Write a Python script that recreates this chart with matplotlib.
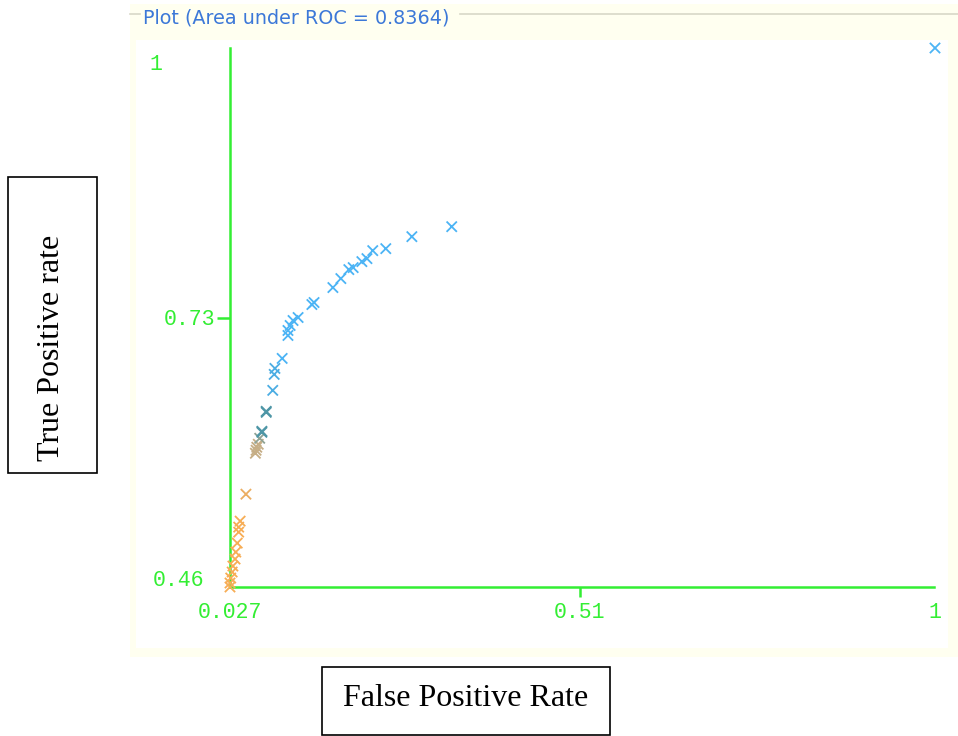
import matplotlib
matplotlib.use("Agg")
import matplotlib.pyplot as plt
from matplotlib.colors import LinearSegmentedColormap
from matplotlib.patches import Rectangle

# ROC points (false positive rate, true positive rate) and threshold colour value
fpr = [0.027, 0.027, 0.028, 0.030, 0.031, 0.034, 0.035, 0.037, 0.039, 0.039, 0.041, 0.049,
       0.062, 0.063, 0.064, 0.066, 0.068, 0.071, 0.071, 0.077, 0.077,
       0.086, 0.088, 0.089, 0.099, 0.107, 0.107, 0.110, 0.114, 0.121, 0.140, 0.143,
       0.169, 0.180, 0.191, 0.197, 0.209, 0.216, 0.224, 0.242, 0.278, 0.333, 1.0]
tpr = [0.460, 0.464, 0.469, 0.475, 0.481, 0.488, 0.495, 0.504, 0.515, 0.520, 0.526, 0.553,
       0.594, 0.597, 0.600, 0.603, 0.609, 0.615, 0.616, 0.635, 0.636,
       0.657, 0.673, 0.679, 0.689, 0.712, 0.717, 0.722, 0.727, 0.730, 0.743, 0.745,
       0.760, 0.769, 0.778, 0.780, 0.786, 0.789, 0.797, 0.799, 0.811, 0.821, 1.0]
shade = [1.0] * 11 + [0.93] + [0.72] * 4 + [0.55] + [0.35] * 4 + [0.08] * 3 + [0.0] * 19

x_ticks = [0.027, 0.51, 1]
x_tick_labels = ["0.027", "0.51", "1"]
y_tick_labels = ["1", "0.73", "0.46"]
title = "Plot (Area under ROC = 0.8364)"

W, H = 958, 736
fig = plt.figure(figsize=(W / 100, H / 100), dpi=100)
fig.patch.set_facecolor("white")


def fx(px):
    return px / W


def fy(py):
    return 1 - py / H


def box(x0, y0, x1, y1, **kw):
    r = Rectangle((fx(x0), fy(y1)), fx(x1) - fx(x0), fy(y0) - fy(y1),
                  transform=fig.transFigure, zorder=-10, **kw)
    fig.patches.append(r)


# panel background (light yellow) and white plotting area
box(130, 4, 958, 657, facecolor="#fffff0", edgecolor="none")
box(136, 40, 948, 648, facecolor="white", edgecolor="none")
# group box border line with title
fig.add_artist(plt.Line2D([fx(130), fx(140)], [fy(14), fy(14)], color="#d8d8c8", lw=1.2))
fig.add_artist(plt.Line2D([fx(460), fx(958)], [fy(14), fy(14)], color="#d8d8c8", lw=1.2))
fig.text(fx(143), fy(18), title, color="#3c78d8", fontsize=13.8, family="DejaVu Sans",
         va="center", ha="left")

green = "#33ee33"
ax = fig.add_axes([fx(230), fy(587), fx(935) - fx(230), fy(48) - fy(587)])
ax.set_facecolor("none")
ax.set_xlim(0.027, 1)
ax.set_ylim(0.46, 1)
for side in ["top", "right"]:
    ax.spines[side].set_visible(False)
ax.spines["left"].set_color(green)
ax.spines["bottom"].set_color(green)
ax.spines["left"].set_linewidth(1.8)
ax.spines["bottom"].set_linewidth(1.8)
ax.spines["bottom"].set_bounds(0.027, 0.9985)

ax.set_xticks([0.51])
ax.set_xticklabels([])
ax.set_yticks([0.73])
ax.set_yticklabels([])
ax.tick_params(axis="x", colors=green, length=7, width=1.8)
ax.tick_params(axis="y", colors=green, length=9.5, width=1.8)

cmap = LinearSegmentedColormap.from_list(
    "roc", [(0, "#4cb4f5"), (0.35, "#4e96a6"), (0.72, "#c6ae86"), (1, "#f7ad55")])
ax.scatter(fpr, tpr, c=shade, cmap=cmap, vmin=0, vmax=1, marker="x", s=55,
           linewidths=1.3, clip_on=False, zorder=3)

mono = dict(color=green, fontsize=15.5, family="Liberation Mono")
for xv, lab in zip(x_ticks, x_tick_labels):
    ax.text(xv, -25 / 539, lab, transform=ax.get_xaxis_transform(), ha="center",
            va="center", **mono)
fig.text(fx(149), fy(65), y_tick_labels[0], ha="left", va="center", **mono)
fig.text(fx(215), fy(320), y_tick_labels[1], ha="right", va="center", **mono)
fig.text(fx(204), fy(580), y_tick_labels[2], ha="right", va="center", **mono)

# outside axis label boxes
box(8, 177, 97, 473, facecolor="white", edgecolor="black", lw=1.2)
fig.text(fx(52), fy(348), "True Positive rate", rotation=90, ha="center", va="center",
         fontsize=23, family="Liberation Serif")
box(322, 667, 610, 735, facecolor="white", edgecolor="black", lw=1.2)
fig.text(fx(466), fy(699), "False Positive Rate", ha="center", va="center",
         fontsize=23, family="Liberation Serif")

fig.savefig("out.png", dpi=100)
